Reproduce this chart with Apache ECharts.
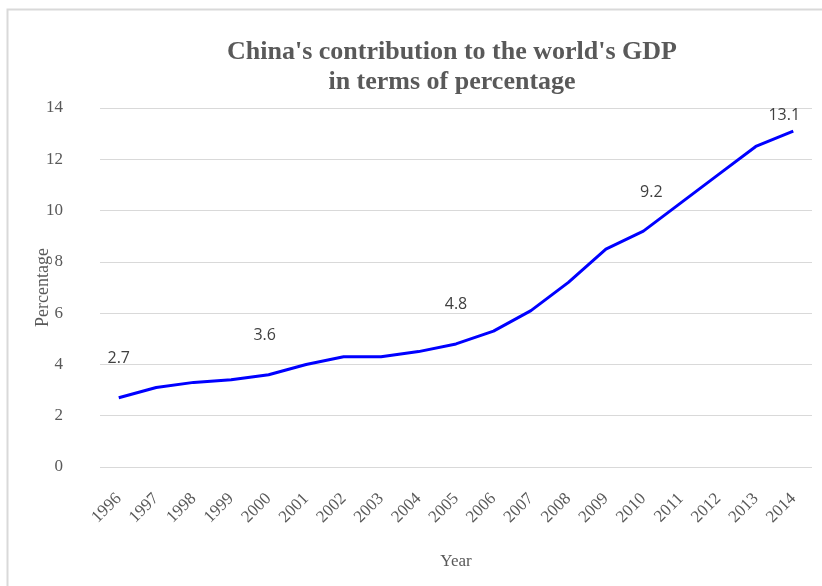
<!DOCTYPE html>
<html>
<head>
<meta charset="utf-8">
<script src="https://cdn.jsdelivr.net/npm/echarts@6/dist/echarts.min.js"></script>
<style>
html,body{margin:0;padding:0;background:#fff;}
#c{width:822px;height:586px;}
</style>
</head>
<body>
<div id="c"></div>
<script>
const years = ['1996','1997','1998','1999','2000','2001','2002','2003','2004','2005','2006','2007','2008','2009','2010','2011','2012','2013','2014'];
const share = [2.7,3.1,3.3,3.4,3.6,4.0,4.3,4.3,4.5,4.8,5.3,6.1,7.2,8.5,9.2,10.3,11.4,12.5,13.1];
const labelledYears = ['1996','2000','2005','2010','2014'];

const chart = echarts.init(document.getElementById('c'), null, {renderer:'canvas'});
const data = share.map((v,i) => {
  const show = labelledYears.indexOf(years[i]) >= 0;
  const item = {value: v};
  if (show) {
    item.label = {show: true, position: 'top', distance: years[i]==='2014' ? 8 : 31,
      offset: years[i]==='2014' ? [-9,0] : (years[i]==='2010' ? [8,0] : (years[i]==='2000' ? [-4,0] : [0,0]))};
  }
  return item;
});
chart.setOption({
  animation:false,
  backgroundColor:'#fff',
  graphic:[{type:'rect', left:5, top:7, shape:{width:830, height:600}, style:{fill:'none', stroke:'#d9d9d9', lineWidth:2}, z:-1}],
  title:{
    text:"China's contribution to the world's GDP\nin terms of percentage",
    left:447, top:32, textAlign:'center',
    textStyle:{fontFamily:'Liberation Serif', fontWeight:'bold', fontSize:26, color:'#595959', lineHeight:30}
  },
  grid:{left:100, right:10, top:108, bottom:119},
  xAxis:{
    type:'category', data:years, boundaryGap:true,
    name:'Year', nameLocation:'middle', nameGap:86,
    nameTextStyle:{fontFamily:'Liberation Serif', fontSize:17, color:'#595959'},
    axisLine:{show:false}, axisTick:{show:false},
    axisLabel:{rotate:45, interval:0, margin:29, fontFamily:'Liberation Serif', fontSize:17, color:'#595959'}
  },
  yAxis:{
    type:'value', min:0, max:14, interval:2,
    name:'Percentage', nameLocation:'middle', nameGap:48, nameRotate:90, nameMoveOverlap:false,
    nameTextStyle:{fontFamily:'Liberation Serif', fontSize:18, color:'#595959'},
    axisLine:{show:false}, axisTick:{show:false},
    axisLabel:{margin:37, fontFamily:'Liberation Serif', fontSize:17, color:'#595959'},
    splitLine:{lineStyle:{color:'#d9d9d9', width:1}}
  },
  series:[{
    type:'line', data:data, symbol:'circle', symbolSize:0, showSymbol:true, smooth:false,
    lineStyle:{color:'#0000ff', width:3},
    itemStyle:{color:'#0000ff'},
    label:{show:false, fontFamily:'Open Sans', fontSize:16, color:'#404040'}
  }]
});
</script>
</body>
</html>
